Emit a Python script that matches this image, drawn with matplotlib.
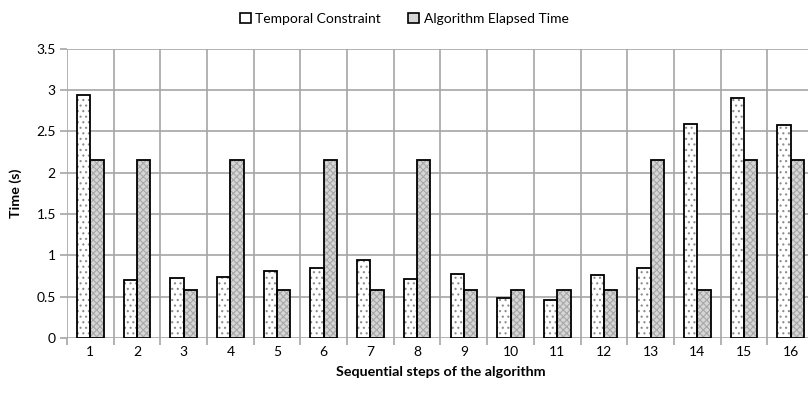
import numpy as np
from matplotlib import pyplot as plt
from matplotlib.patches import Patch

# values
steps = [str(i) for i in range(1, 17)]
temporal = [2.94, 0.70, 0.72, 0.74, 0.81, 0.84, 0.94, 0.71,
            0.77, 0.48, 0.46, 0.76, 0.84, 2.59, 2.91, 2.58]
elapsed = [2.16, 2.16, 0.58, 2.16, 0.58, 2.16, 0.58, 2.16,
           0.58, 0.58, 0.58, 0.58, 2.16, 0.58, 2.16, 2.16]
yticks = [0, 0.5, 1, 1.5, 2, 2.5, 3, 3.5]
ylabels = ['0', '0.5', '1', '1.5', '2', '2.5', '3', '3.5']

plt.rcParams['font.family'] = ['Lato', 'DejaVu Sans']
plt.rcParams['hatch.linewidth'] = 0.8

fig = plt.figure(figsize=(8.08, 3.96), dpi=100)
ax = fig.add_axes([0.0829, 0.147, 0.9245, 0.7295])

x = np.arange(len(steps))
w = 0.285
grid_c = '#a6a6a6'

tc_style = dict(color='white', edgecolor='#8c8c8c', hatch='...', linewidth=0)
ae_style = dict(color='#d6d6d6', edgecolor='#a8a8a8', hatch='xxxxx', linewidth=0)

# fills with hatching (hatch color comes from edgecolor)
ax.bar(x - w / 2, temporal, w, zorder=3, **tc_style)
ax.bar(x + w / 2, elapsed, w, zorder=3, **ae_style)
# black outlines
ax.bar(x - w / 2, temporal, w, fill=False, edgecolor='black', linewidth=1.3, zorder=4)
ax.bar(x + w / 2, elapsed, w, fill=False, edgecolor='black', linewidth=1.3, zorder=4)

ax.set_xlim(-0.5, len(steps) - 0.5)
ax.set_ylim(0, 3.5)
ax.set_yticks(yticks)
ax.set_yticklabels(ylabels)
ax.set_xticks(x)
ax.set_xticklabels(steps)
ax.set_xticks(np.arange(-0.5, len(steps)), minor=True)

ax.grid(True, which='major', axis='y', color=grid_c, linewidth=1.2, zorder=0)
ax.grid(True, which='minor', axis='x', color=grid_c, linewidth=1.2, zorder=0)
ax.tick_params(axis='x', which='major', length=0, labelsize=10, pad=6)
ax.tick_params(axis='x', which='minor', length=5, color=grid_c, width=1.2)
ax.tick_params(axis='y', length=5, color=grid_c, width=1.2, labelsize=10, pad=3)
for s in ax.spines.values():
    s.set_visible(False)

ax.set_xlabel('Sequential steps of the algorithm', fontsize=10.3, fontweight='bold', labelpad=6)
ax.set_ylabel('Time (s)', fontsize=10.3, fontweight='bold', labelpad=10)

outline = dict(fill=False, edgecolor='black', linewidth=1.2)
h1 = (Patch(**tc_style), Patch(**outline))
h2 = (Patch(**ae_style), Patch(**outline))
fig.legend([h1, h2], ['Temporal Constraint', 'Algorithm Elapsed Time'],
           loc='upper center', bbox_to_anchor=(0.5, 1.0), ncol=2, frameon=False,
           fontsize=10, handlelength=0.8, handleheight=0.8, handletextpad=0.3,
           columnspacing=2.0)

fig.savefig('out.png', dpi=100)
